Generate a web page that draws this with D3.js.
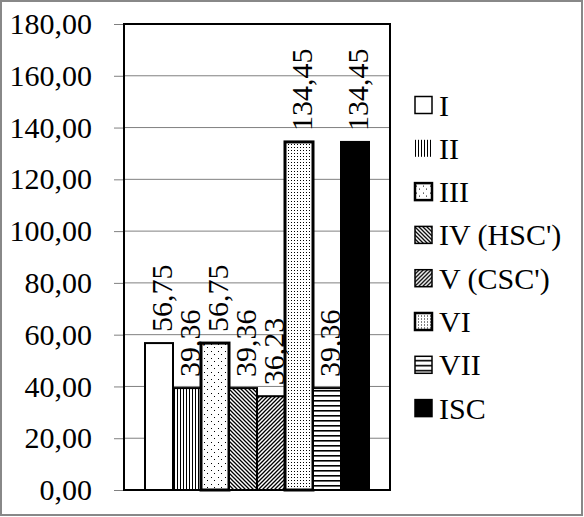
<!DOCTYPE html>
<html><head><meta charset="utf-8">
<script src="https://cdn.jsdelivr.net/npm/d3@7"></script>
</head><body style="margin:0">
<script>
const categories = ["I","II","III","IV (HSC')","V (CSC')","VI","VII","ISC"];
const values = [56.75,39.36,56.75,39.36,36.23,134.45,39.36,134.45];
const valueLabels = ["56,75","39,36","56,75","39,36","36,23","134,45","39,36","134,45"];
const yTicks = [0,20,40,60,80,100,120,140,160,180];
const fills = ["#fff","url(#pII)","url(#pIII)","url(#pIV)","url(#pV)","url(#pVI)","url(#pVII)","#000"];
const strokeW = [2,2,3,2,2,3,2,2];

const W=584,H=517;
const svg=d3.select("body").append("svg").attr("width",W).attr("height",H)
  .style("display","block").style("font-family","'Liberation Serif'").style("font-size","30px");
const defs=svg.append("defs");
function pat(id,w,h,draw){const p=defs.append("pattern").attr("id",id).attr("patternUnits","userSpaceOnUse").attr("width",w).attr("height",h);p.append("rect").attr("width",w).attr("height",h).attr("fill","#fff");draw(p);}
pat("pII",3,3,p=>p.append("rect").attr("x",0).attr("y",0).attr("width",1).attr("height",3).attr("fill","#000"));
pat("pIII",7,7,p=>{p.append("rect").attr("x",1).attr("y",1).attr("width",1).attr("height",1).attr("fill","#000");p.append("rect").attr("x",4).attr("y",4).attr("width",1).attr("height",1).attr("fill","#000");});
pat("pIV",4,4,p=>p.append("path").attr("d","M-1,-1L5,5M-1,3L1,5M3,-1L5,1").attr("stroke","#000").attr("stroke-width",1.3));
pat("pV",4,4,p=>p.append("path").attr("d","M-1,5L5,-1M-1,1L1,-1M3,5L5,3").attr("stroke","#000").attr("stroke-width",1.3));
pat("pVI",3,3,p=>{p.append("rect").attr("x",0).attr("y",0).attr("width",1).attr("height",1).attr("fill","#000");});
pat("pVII",5,5,p=>p.append("rect").attr("x",0).attr("y",0).attr("width",5).attr("height",1.6).attr("fill","#000"));

svg.append("rect").attr("x",1).attr("y",1).attr("width",W-3).attr("height",H-3).attr("fill","none").attr("stroke","#888").attr("stroke-width",2);

const L=124,R=390,T=24,B=490;
const y=d3.scaleLinear().domain([0,180]).range([B,T]);
const x=d3.scaleBand().domain(categories).range([L,R]).paddingInner(0).paddingOuter(0.75);

svg.append("g").selectAll("line").data(yTicks.slice(1)).join("line")
 .attr("x1",L).attr("x2",R).attr("y1",d=>y(d)).attr("y2",d=>y(d)).attr("stroke","#808080").attr("stroke-width",1);

const ax=svg.append("g").attr("transform",`translate(${L},0)`)
 .call(d3.axisLeft(y).tickValues(yTicks).tickSize(10).tickPadding(22).tickFormat(d=>d3.format(".2f")(d).replace(".",",")));
ax.attr("font-family",null).attr("font-size",null);
ax.select(".domain").remove();
ax.selectAll(".tick line").attr("stroke","#808080");
ax.selectAll(".tick text").attr("fill","#000");

svg.append("g").selectAll("rect").data(values).join("rect")
 .attr("x",(d,i)=>x(categories[i])).attr("width",x.bandwidth())
 .attr("y",d=>y(d)).attr("height",d=>y(0)-y(d))
 .attr("fill",(d,i)=>fills[i]).attr("stroke","#000").attr("stroke-width",(d,i)=>strokeW[i]);

svg.append("g").selectAll("text").data(values).join("text")
 .attr("transform",(d,i)=>`translate(${x(categories[i])+x.bandwidth()/2+2},${y(d)-11}) rotate(-90)`)
 .attr("dy","0.35em").attr("text-anchor","start")
 .text((d,i)=>valueLabels[i]);

svg.append("rect").attr("x",L).attr("y",T).attr("width",R-L).attr("height",B-T).attr("fill","none").attr("stroke","#000").attr("stroke-width",2);

const lg=svg.append("g").selectAll("g").data(categories).join("g").attr("transform",(d,i)=>`translate(415,${105+i*43.3})`);
lg.append("rect").attr("x",0).attr("y",-8.5).attr("width",17).attr("height",17)
 .attr("fill",(d,i)=>fills[i]).attr("stroke",(d,i)=>i===1?"none":"#000").attr("stroke-width",(d,i)=>strokeW[i]===3?2.5:1.5);
lg.append("text").attr("x",24).attr("dy","0.35em").text(d=>d);
</script>
</body></html>
